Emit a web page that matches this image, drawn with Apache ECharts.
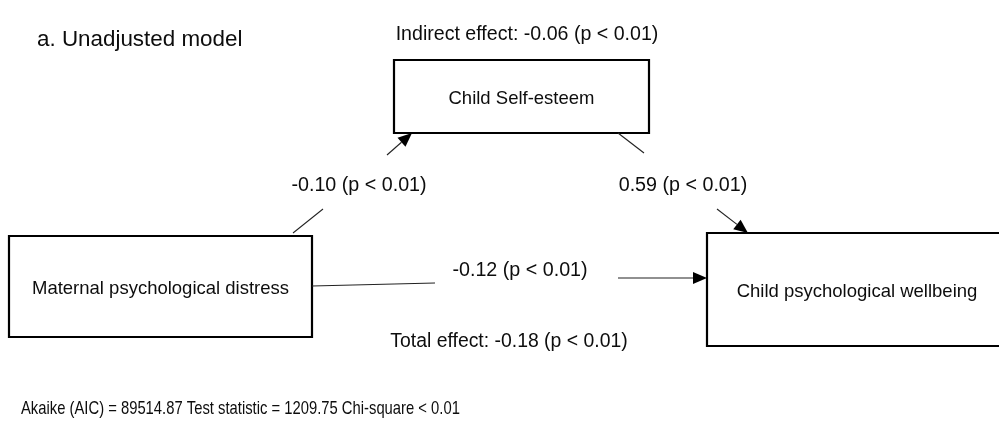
<!DOCTYPE html>
<html>
<head>
<meta charset="utf-8">
<title>Unadjusted mediation model</title>
<script src="https://cdn.jsdelivr.net/npm/echarts@6/dist/echarts.min.js"></script>
<style>
  html, body { margin: 0; padding: 0; background: #fff; }
  #chart { width: 999px; height: 422px; }
</style>
</head>
<body>
<div id="chart"></div>
<script>
// model variables
const nodeNames = ['Maternal psychological distress', 'Child Self-esteem', 'Child psychological wellbeing'];
// paths: a (X -> M), b (M -> Y), c' (X -> Y)
const pathFrom = [0, 1, 0];
const pathTo = [1, 2, 2];
const pathCoef = [-0.10, 0.59, -0.12];
const pathP = ['< 0.01', '< 0.01', '< 0.01'];
// effects and fit
const indirectEffect = -0.06;
const indirectP = '< 0.01';
const totalEffect = -0.18;
const totalP = '< 0.01';
const fitAIC = 89514.87;
const fitTestStat = 1209.75;
const fitChiSq = '< 0.01';

// diagram layout, in pixels (x0, y0, x1, y1)
const boxLayout = [[9, 236, 312, 337], [394, 60, 649, 133], [707, 233, 1007, 346]];
// each path: tail segment, head segment (ends at arrow tip), label centre
const tailLayout = [[293, 233, 323, 209], [618, 133, 644, 153], [312, 286, 435, 283]];
const headLayout = [[387, 155, 412, 133], [717, 209, 748, 233], [618, 278, 707, 278]];
const labelLayout = [[359, 186], [683, 186], [520, 271]];

const FONT = '"Liberation Sans", Arial, Helvetica, sans-serif';
const INK = '#0d0d0d';

function pLabel(v, p) {
  return v.toFixed(2) + ' (p ' + p + ')';
}

const chart = echarts.init(document.getElementById('chart'));

const option = {
  animation: false,
  backgroundColor: '#fff',
  grid: { left: 0, right: 0, top: 0, bottom: 0 },
  xAxis: { type: 'value', min: 0, max: 999, show: false },
  yAxis: { type: 'value', min: 0, max: 422, inverse: true, show: false },
  graphic: [
    {
      type: 'text', x: 37, y: 40,
      style: { text: 'a. Unadjusted model', fontSize: 22.4, fontFamily: FONT, fill: INK, align: 'left', verticalAlign: 'middle' }
    },
    {
      type: 'text', x: 527, y: 35,
      style: { text: 'Indirect effect: ' + pLabel(indirectEffect, indirectP), fontSize: 19.6, fontFamily: FONT, fill: INK, align: 'center', verticalAlign: 'middle' }
    },
    {
      type: 'text', x: 509, y: 342,
      style: { text: 'Total effect: ' + pLabel(totalEffect, totalP), fontSize: 19.4, fontFamily: FONT, fill: INK, align: 'center', verticalAlign: 'middle' }
    },
    {
      type: 'text', x: 21, y: 409, scaleX: 0.8,
      style: {
        text: 'Akaike (AIC) = ' + fitAIC.toFixed(2) + ' Test statistic = ' + fitTestStat.toFixed(2) + ' Chi-square ' + fitChiSq,
        fontSize: 18.5, fontFamily: FONT, fill: INK, align: 'left', verticalAlign: 'middle'
      }
    }
  ],
  series: [
    {
      // variable boxes
      type: 'custom',
      coordinateSystem: 'cartesian2d',
      data: boxLayout.map(function (b, i) { return [b[0], b[1], b[2], b[3], i]; }),
      renderItem: function (params, api) {
        const p0 = api.coord([api.value(0), api.value(1)]);
        const p1 = api.coord([api.value(2), api.value(3)]);
        return {
          type: 'group',
          children: [
            {
              type: 'rect',
              shape: { x: p0[0], y: p0[1], width: p1[0] - p0[0], height: p1[1] - p0[1] },
              style: { fill: '#fff', stroke: '#000', lineWidth: 2.2 }
            },
            {
              type: 'text',
              style: {
                text: nodeNames[params.dataIndex],
                x: (p0[0] + p1[0]) / 2, y: (p0[1] + p1[1]) / 2 + 2,
                align: 'center', verticalAlign: 'middle',
                fontSize: 18.5, fontFamily: FONT, fill: INK
              }
            }
          ]
        };
      }
    },
    {
      // paths with coefficient labels
      type: 'custom',
      coordinateSystem: 'cartesian2d',
      data: pathCoef.map(function (c, i) { return [labelLayout[i][0], labelLayout[i][1], c, pathFrom[i], pathTo[i]]; }),
      renderItem: function (params, api) {
        const i = params.dataIndex;
        const t = tailLayout[i], h = headLayout[i];
        const t0 = api.coord([t[0], t[1]]), t1 = api.coord([t[2], t[3]]);
        const s = api.coord([h[0], h[1]]), tip = api.coord([h[2], h[3]]);
        const lab = api.coord([api.value(0), api.value(1)]);
        const dx = tip[0] - s[0], dy = tip[1] - s[1];
        const len = Math.sqrt(dx * dx + dy * dy);
        const ux = dx / len, uy = dy / len;
        const L = 14, W = 12;
        const bx = tip[0] - ux * L, by = tip[1] - uy * L;
        const nx = -uy, ny = ux;
        return {
          type: 'group',
          children: [
            {
              type: 'line',
              shape: { x1: t0[0], y1: t0[1], x2: t1[0], y2: t1[1] },
              style: { stroke: '#222', lineWidth: 1.1 }
            },
            {
              type: 'line',
              shape: { x1: s[0], y1: s[1], x2: bx, y2: by },
              style: { stroke: '#222', lineWidth: 1.1 }
            },
            {
              type: 'polygon',
              shape: { points: [[tip[0], tip[1]], [bx + nx * W / 2, by + ny * W / 2], [bx - nx * W / 2, by - ny * W / 2]] },
              style: { fill: '#000' }
            },
            {
              type: 'text',
              style: {
                text: pLabel(api.value(2), pathP[i]),
                x: lab[0], y: lab[1],
                align: 'center', verticalAlign: 'middle',
                fontSize: 19.7, fontFamily: FONT, fill: INK
              }
            }
          ]
        };
      }
    }
  ]
};

chart.setOption(option);
</script>
</body>
</html>
